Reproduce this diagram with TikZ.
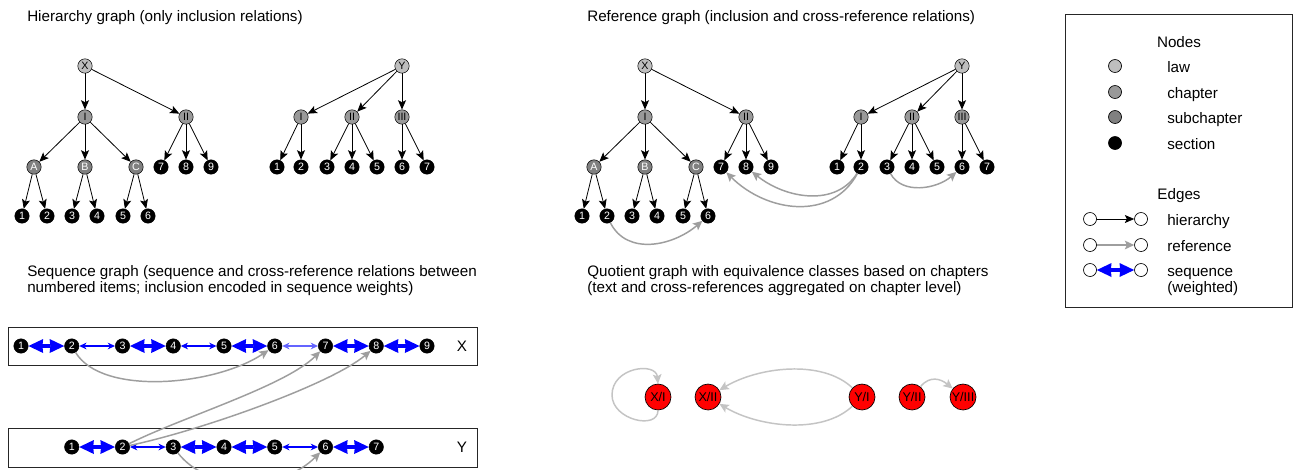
\documentclass[tikz,border=0pt]{standalone}
\usepackage{fontspec}
\setmainfont{Liberation Sans}
\usetikzlibrary{arrows.meta}
\definecolor{lawc}{RGB}{190,190,190}
\definecolor{chapc}{RGB}{153,153,153}
\definecolor{subcc}{RGB}{128,128,128}
\definecolor{refc}{RGB}{158,158,158}
\definecolor{qc}{RGB}{196,196,196}
\definecolor{seqc}{RGB}{0,0,255}
\definecolor{seqlight}{RGB}{100,100,255}
\tikzset{
 nd/.style={circle, draw=black, line width=0.4pt, inner sep=0pt, minimum size=10.8pt, font=\fontsize{8}{8}\selectfont},
 law/.style={nd, fill=lawc},
 chap/.style={nd, fill=chapc},
 subc/.style={nd, fill=subcc, text=white},
 sec/.style={nd, fill=black, text=white},
 hier/.style={draw=black, line width=0.6pt, -{Stealth[length=7pt,width=6pt,inset=1.5pt]}},
 refe/.style={draw=refc, line width=1.1pt, -{Stealth[length=7pt,width=6.5pt,inset=1.5pt]}},
 seqw/.style={draw=seqc, line width=3pt, {Stealth[length=11pt,width=10.5pt,inset=0.5pt,line width=0pt]}-{Stealth[length=11pt,width=10.5pt,inset=0.5pt,line width=0pt]}},
 seqn/.style={draw=seqc, line width=0.8pt, {Stealth[length=5.5pt,width=5pt]}-{Stealth[length=5.5pt,width=5pt]}},
 qnd/.style={circle, draw=black, line width=0.5pt, fill=red, inner sep=0pt, minimum size=19.5pt, font=\fontsize{9.5}{9.5}\selectfont},
 qed/.style={draw=qc, line width=1.1pt, -{Stealth[length=7pt,width=6.5pt,inset=1.5pt]}},
 ttl/.style={anchor=base west, inner sep=0pt, align=left, font=\fontsize{11.4}{12}\selectfont},
 lbl/.style={anchor=base west, inner sep=0pt, font=\fontsize{11.4}{12}\selectfont},
 lhd/.style={anchor=base, inner sep=0pt, font=\fontsize{11.4}{12}\selectfont},
 lnd/.style={circle, draw=black, line width=0.5pt, inner sep=0pt, minimum size=9.75pt},
 seqbox/.style={draw=black!85, line width=0.7pt},
}
\newcommand\mytrees[2]{%
 \node[law]  (#1X)  at (85+#2,66)  {X};
 \node[chap] (#1I)  at (85+#2,117) {I};
 \node[chap] (#1II) at (186+#2,117) {II};
 \node[subc] (#1A)  at (34+#2,167) {A};
 \node[subc] (#1B)  at (85+#2,167) {B};
 \node[subc] (#1C)  at (136+#2,167) {C};
 \node[sec]  (#17)  at (161+#2,167) {7};
 \node[sec]  (#18)  at (186+#2,167) {8};
 \node[sec]  (#19)  at (211+#2,167) {9};
 \node[sec]  (#11)  at (22+#2,216) {1};
 \node[sec]  (#12)  at (47+#2,216) {2};
 \node[sec]  (#13)  at (72+#2,216) {3};
 \node[sec]  (#14)  at (97+#2,216) {4};
 \node[sec]  (#15)  at (123+#2,216) {5};
 \node[sec]  (#16)  at (148+#2,216) {6};
 \node[law]  (#1Y)    at (402+#2,66)  {Y};
 \node[chap] (#1YI)   at (301+#2,117) {I};
 \node[chap] (#1YII)  at (352+#2,117) {II};
 \node[chap] (#1YIII) at (402+#2,117) {III};
 \node[sec]  (#1y1) at (277+#2,167) {1};
 \node[sec]  (#1y2) at (301+#2,167) {2};
 \node[sec]  (#1y3) at (327+#2,167) {3};
 \node[sec]  (#1y4) at (352+#2,167) {4};
 \node[sec]  (#1y5) at (377+#2,167) {5};
 \node[sec]  (#1y6) at (402+#2,167) {6};
 \node[sec]  (#1y7) at (427+#2,167) {7};
 \draw[hier] (#1X) -- (#1I);
 \draw[hier] (#1X) -- (#1II);
 \draw[hier] (#1I) -- (#1A);
 \draw[hier] (#1I) -- (#1B);
 \draw[hier] (#1I) -- (#1C);
 \draw[hier] (#1A) -- (#11);
 \draw[hier] (#1A) -- (#12);
 \draw[hier] (#1B) -- (#13);
 \draw[hier] (#1B) -- (#14);
 \draw[hier] (#1C) -- (#15);
 \draw[hier] (#1C) -- (#16);
 \draw[hier] (#1II) -- (#17);
 \draw[hier] (#1II) -- (#18);
 \draw[hier] (#1II) -- (#19);
 \draw[hier] (#1Y) -- (#1YI);
 \draw[hier] (#1Y) -- (#1YII);
 \draw[hier] (#1Y) -- (#1YIII);
 \draw[hier] (#1YI) -- (#1y1);
 \draw[hier] (#1YI) -- (#1y2);
 \draw[hier] (#1YII) -- (#1y3);
 \draw[hier] (#1YII) -- (#1y4);
 \draw[hier] (#1YII) -- (#1y5);
 \draw[hier] (#1YIII) -- (#1y6);
 \draw[hier] (#1YIII) -- (#1y7);
}
\begin{document}
\begin{tikzpicture}[x=0.75pt,y=-0.75pt]
\useasboundingbox (0,0) rectangle (1298,469);
\clip (0,0) rectangle (1298,469);
\fill[white] (0,0) rectangle (1298,469);

% titles
\node[ttl] (t1) at (27,21) {Hierarchy graph (only inclusion relations)};
\node[ttl] (t2) at (587,21) {Reference graph (inclusion and cross-reference relations)};
\node[ttl] (t3) at (27,292) {Sequence graph (sequence and cross-reference relations between\\numbered items; inclusion encoded in sequence weights)};
\node[ttl] (t4) at (587,292) {Quotient graph with equivalence classes based on chapters\\(text and cross-references aggregated on chapter level)};

% hierarchy and reference trees
\mytrees{h}{0}
\mytrees{r}{560}
\draw[refe] (r2) .. controls +(20,40) and +(-35,30) .. (r6);
\draw[refe] (ry2) .. controls +(-30,55) and +(45,45) .. (r7);
\draw[refe] (ry2) .. controls +(-25,40) and +(40,32) .. (r8);
\draw[refe] (ry3) .. controls +(15,28) and +(-25,22) .. (ry6);

% legend
\draw[black!85, line width=0.75pt] (1065,14) rectangle (1292,307);
\node[lhd] (lgn) at (1179,47) {Nodes};
\node[lnd, fill=lawc]  (lg1) at (1115,66) {};
\node[lnd, fill=chapc] (lg2) at (1115,92) {};
\node[lnd, fill=subcc] (lg3) at (1115,117) {};
\node[lnd, fill=black] (lg4) at (1115,143) {};
\node[lbl] (lt1) at (1167,72) {law};
\node[lbl] (lt2) at (1167,98) {chapter};
\node[lbl] (lt3) at (1167,123) {subchapter};
\node[lbl] (lt4) at (1167,149) {section};
\node[lhd] (lge) at (1179,199) {Edges};
\node[lnd, fill=white] (le1a) at (1090,219) {};
\node[lnd, fill=white] (le1b) at (1141,219) {};
\node[lnd, fill=white] (le2a) at (1090,245) {};
\node[lnd, fill=white] (le2b) at (1141,245) {};
\node[lnd, fill=white] (le3a) at (1090,270) {};
\node[lnd, fill=white] (le3b) at (1141,270) {};
\draw[hier] (le1a) -- (le1b);
\draw[refe] (le2a) -- (le2b);
\draw[seqw] (le3a) -- (le3b);
\node[lbl] (lt5) at (1167,225) {hierarchy};
\node[lbl] (lt6) at (1167,251) {reference};
\node[lbl] (lt7) at (1167,276) {sequence};
\node[lbl] (lt8) at (1167,292) {(weighted)};

% sequence graph
\draw[seqbox] (8,327) rectangle (477,365);
\draw[seqbox] (8,428) rectangle (477,467);
\node[lhd, anchor=center] (sxl) at (462,346) {X};
\node[lhd, anchor=center] (syl) at (462,447) {Y};
\foreach \i in {1,...,9} {
  \node[sec] (sx\i) at ({21+50.75*(\i-1)},346) {\i};
}
\foreach \i in {1,...,7} {
  \node[sec] (sy\i) at ({71.75+50.75*(\i-1)},447) {\i};
}
\draw[seqw] (sx1) -- (sx2);
\draw[seqn] (sx2) -- (sx3);
\draw[seqw] (sx3) -- (sx4);
\draw[seqn] (sx4) -- (sx5);
\draw[seqw] (sx5) -- (sx6);
\draw[seqn, draw=seqlight] (sx6) -- (sx7);
\draw[seqw] (sx7) -- (sx8);
\draw[seqw] (sx8) -- (sx9);
\draw[seqw] (sy1) -- (sy2);
\draw[seqn] (sy2) -- (sy3);
\draw[seqw] (sy3) -- (sy4);
\draw[seqw] (sy4) -- (sy5);
\draw[seqn] (sy5) -- (sy6);
\draw[seqw] (sy6) -- (sy7);
\draw[refe] (sx2) .. controls +(30,50) and +(-60,40) .. (sx6);
\draw[refe] (sy2) .. controls +(60,-30) and +(-40,40) .. (sx7);
\draw[refe] (sy2) .. controls +(80,-17) and +(-45,38) .. (sx8);
\draw[refe] (sy3) .. controls +(35,45) and +(-45,45) .. (sy6);

% quotient graph
\node[qnd] (qxi)   at (658,397) {X/I};
\node[qnd] (qxii)  at (708,397) {X/II};
\node[qnd] (qyi)   at (862,397) {Y/I};
\node[qnd] (qyii)  at (912,397) {Y/II};
\node[qnd] (qyiii) at (963,397) {Y/III};
\coordinate (loopL) at (612,395);
\draw[qed] (qxi.south) .. controls +(0,20) and +(0,25) .. (loopL) .. controls +(0,-28) and +(-2,-22) .. (qxi.north);
\draw[qed] (qyi) .. controls +(-40,-38) and +(50,-30) .. (qxii);
\draw[qed] (qyi) .. controls +(-40,38) and +(50,30) .. (qxii);
\draw[qed] (qyii) .. controls +(18,-22) and +(-22,-18) .. (qyiii);
\end{tikzpicture}
\end{document}
